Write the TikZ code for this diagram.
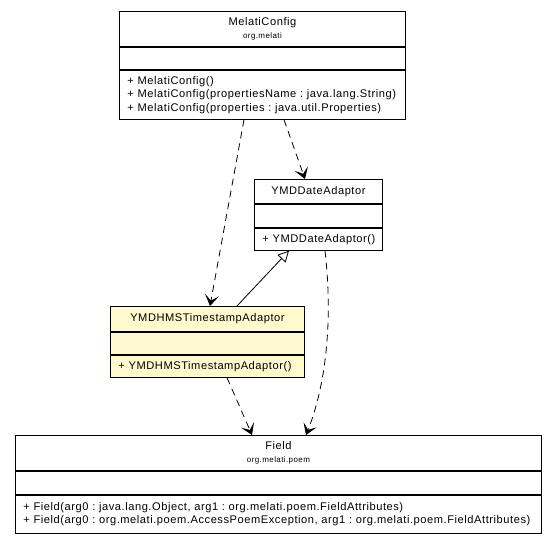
\documentclass[tikz,border=0pt]{standalone}
\usepackage{fontspec}
\setmainfont[LetterSpace=5]{Liberation Sans}
\usetikzlibrary{positioning,arrows.meta}
\definecolor{notecolor}{RGB}{255,250,205}
\tikzset{
  box/.style={draw, line width=0.9pt, anchor=north west, inner sep=0pt, align=center},
  ops/.style={box, align=left, inner xsep=8pt},
  dep/.style={dash pattern=on 7pt off 5pt, line width=0.8pt, -{Stealth[length=11pt,width=14pt,inset=5.5pt]}},
  gen/.style={line width=0.8pt, -{Triangle[open,length=11pt,width=11pt]}}
}
\frenchspacing
\begin{document}
\begin{tikzpicture}[x=1pt, y=-1pt, every node/.style={font=\fontsize{11.1}{13.4}\selectfont}]
  \useasboundingbox[fill=white] (0,0) rectangle (557,541);
  \node[box, minimum width=286pt, minimum height=35pt] (mc) at (119,11) {MelatiConfig\\[-1pt]{\fontsize{8}{9}\selectfont org.melati}};
  \node[box, minimum width=286pt, minimum height=22pt] (mca) at (mc.south west) {};
  \node[ops, text width=270pt, minimum height=49pt] (mco) at (mca.south west) {+ MelatiConfig()\\+ MelatiConfig(propertiesName : java.lang.String)\\+ MelatiConfig(properties : java.util.Properties)};
  \node[box, minimum width=128pt, minimum height=24pt] (yd) at (254,179) {YMDDateAdaptor};
  \node[box, minimum width=128pt, minimum height=23pt] (yda) at (yd.south west) {};
  \node[ops, text width=112pt, minimum height=22pt] (ydo) at (yda.south west) {+ YMDDateAdaptor()};
  \node[box, fill=notecolor, minimum width=194pt, minimum height=25pt] (yt) at (110,306) {YMDHMSTimestampAdaptor};
  \node[box, fill=notecolor, minimum width=194pt, minimum height=22pt] (yta) at (yt.south west) {};
  \node[ops, fill=notecolor, text width=178pt, minimum height=22pt] (yto) at (yta.south west) {+ YMDHMSTimestampAdaptor()};
  \node[box, minimum width=526pt, minimum height=35pt] (fd) at (15,435) {Field\\[-1pt]{\fontsize{8}{9}\selectfont org.melati.poem}};
  \node[box, minimum width=526pt, minimum height=23pt] (fda) at (fd.south west) {};
  \node[ops, text width=510pt, minimum height=38pt] (fdo) at (fda.south west) {+ Field(arg0 : java.lang.Object, arg1 : org.melati.poem.FieldAttributes)\\+ Field(arg0 : org.melati.poem.AccessPoemException, arg1 : org.melati.poem.FieldAttributes)};
  \draw[dep] ([xshift=125pt]mco.south west) -- ([xshift=100pt]yt.north west);
  \draw[dep] ([xshift=165pt]mco.south west) -- ([xshift=51pt]yd.north west);
  \draw[gen] ([xshift=127pt]yt.north west) -- ([xshift=35pt]ydo.south west);
  \draw[dep] ([xshift=117pt]yto.south west) -- ([xshift=237pt]fd.north west);
  \draw[dep] ([xshift=71pt]ydo.south west) .. controls (333,320) and (326,385) .. ([xshift=291pt]fd.north west);
\end{tikzpicture}
\end{document}
